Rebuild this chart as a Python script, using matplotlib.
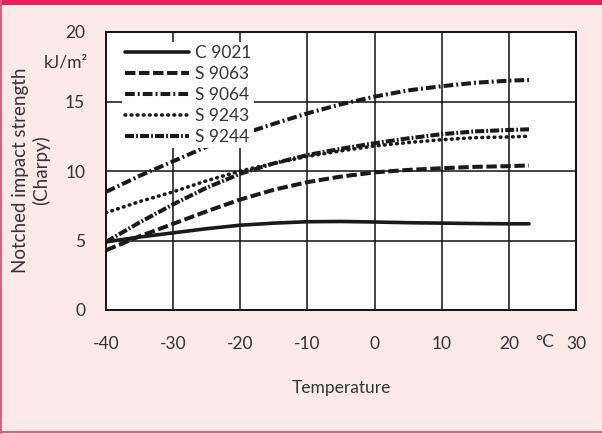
import matplotlib
matplotlib.use("Agg")
import matplotlib.pyplot as plt
from matplotlib.patches import Rectangle

plt.rcParams['font.family'] = ['Lato', 'DejaVu Sans']
plt.rcParams['lines.scale_dashes'] = False
plt.rcParams['axes.unicode_minus'] = False

temps = [-40, -35, -30, -25, -20, -15, -10, -5, 0, 5, 10, 15, 20, 23]
c9021 = [4.9, 5.25, 5.55, 5.85, 6.1, 6.25, 6.35, 6.37, 6.33, 6.28, 6.25, 6.22, 6.2, 6.2]
s9063 = [4.3, 5.3, 6.2, 7.1, 7.95, 8.65, 9.2, 9.6, 9.9, 10.08, 10.2, 10.3, 10.35, 10.4]
s9064 = [8.5, 9.65, 10.7, 11.75, 12.6, 13.4, 14.15, 14.8, 15.35, 15.8, 16.1, 16.35, 16.5, 16.55]
s9243 = [7.0, 7.8, 8.5, 9.3, 10.0, 10.55, 11.05, 11.45, 11.8, 12.05, 12.25, 12.4, 12.45, 12.5]
s9244 = [4.9, 6.3, 7.6, 8.8, 9.8, 10.55, 11.15, 11.6, 12.0, 12.35, 12.65, 12.85, 12.95, 13.0]
labels = ["C 9021", "S 9063", "S 9064", "S 9243", "S 9244"]
xticks = [-40, -30, -20, -10, 0, 10, 20, 30]
yticks = [0, 5, 10, 15, 20]

W, H = 602, 434
fig = plt.figure(figsize=(W / 100, H / 100), dpi=100)
fig.patch.set_facecolor('#fde9e8')

# decorative borders
fig.add_artist(Rectangle((0, 1 - 5 / H), 1, 5 / H, transform=fig.transFigure,
                         facecolor='#e5215d', edgecolor='none'))
fig.add_artist(Rectangle((0, 0), 2 / W, 1, transform=fig.transFigure,
                         facecolor='#ea5a80', edgecolor='none'))
fig.add_artist(Rectangle((0, 1 / H), 1, 2 / H, transform=fig.transFigure,
                         facecolor='#ea5a80', edgecolor='none'))

left, right, top, bottom = 106, 576, 32, 310
ax = fig.add_axes([left / W, 1 - bottom / H, (right - left) / W, (bottom - top) / H])
ax.set_facecolor('white')
ax.set_xlim(-40, 30)
ax.set_ylim(0, 20)

for x in xticks[1:-1]:
    ax.axvline(x, color='#111111', lw=1.1, zorder=1)
for y in yticks[1:-1]:
    ax.axhline(y, color='#111111', lw=1.1, zorder=1)
for s in ax.spines.values():
    s.set_color('#111111')
    s.set_linewidth(1.4)

ink = '#1a1a1a'
lw = 2.9
ax.plot(temps, c9021, color=ink, lw=2.6, solid_capstyle='round', label=labels[0], zorder=3)
ax.plot(temps, s9063, color=ink, lw=lw, dashes=(7.5, 2.6), label=labels[1], zorder=3)
ax.plot(temps, s9064, color=ink, lw=lw, dashes=(7, 2.2, 1.4, 2.2), label=labels[2], zorder=3)
ax.plot(temps, s9243, color=ink, lw=2.6, dashes=(0.5, 3.9), dash_capstyle='round',
        label=labels[3], zorder=3)
ax.plot(temps, s9244, color=ink, lw=lw, dashes=(6.5, 1.5, 1.3, 1.5), label=labels[4], zorder=3)

txt = '#333333'
ax.set_xticks(xticks)
ax.set_yticks(yticks)
ax.tick_params(length=0, labelsize=12.5, colors=txt)
ax.tick_params(axis='x', pad=19)
ax.tick_params(axis='y', pad=15)

fig.text(545 / W, 1 - 342 / H, "°C", ha='center', va='center', fontsize=12.5, color=txt)
fig.text(88 / W, 1 - 62 / H, "kJ/m²", ha='right', va='center', fontsize=12.5, color=txt)
fig.text(31 / W, 1 - 170 / H, "Notched impact strength\n(Charpy)", rotation=90,
         ha='center', va='center', multialignment='center', fontsize=13.5,
         color=txt, linespacing=1.15)
fig.text(341 / W, 1 - 388 / H, "Temperature", ha='center', va='center',
         fontsize=12.5, color=txt)

leg = ax.legend(loc='upper left', bbox_to_anchor=((122 - left) / (right - left),
                (bottom - 42) / (bottom - top)),
                fontsize=12.5, handlelength=3.7, handletextpad=0.35,
                labelspacing=0.3, borderpad=0.15, borderaxespad=0,
                frameon=True, fancybox=False)
leg.get_frame().set_facecolor('white')
leg.get_frame().set_edgecolor('none')
leg.get_frame().set_alpha(1)
leg.set_zorder(5)
for t in leg.get_texts():
    t.set_color(txt)

fig.savefig('out.png', dpi=100, facecolor=fig.get_facecolor())
